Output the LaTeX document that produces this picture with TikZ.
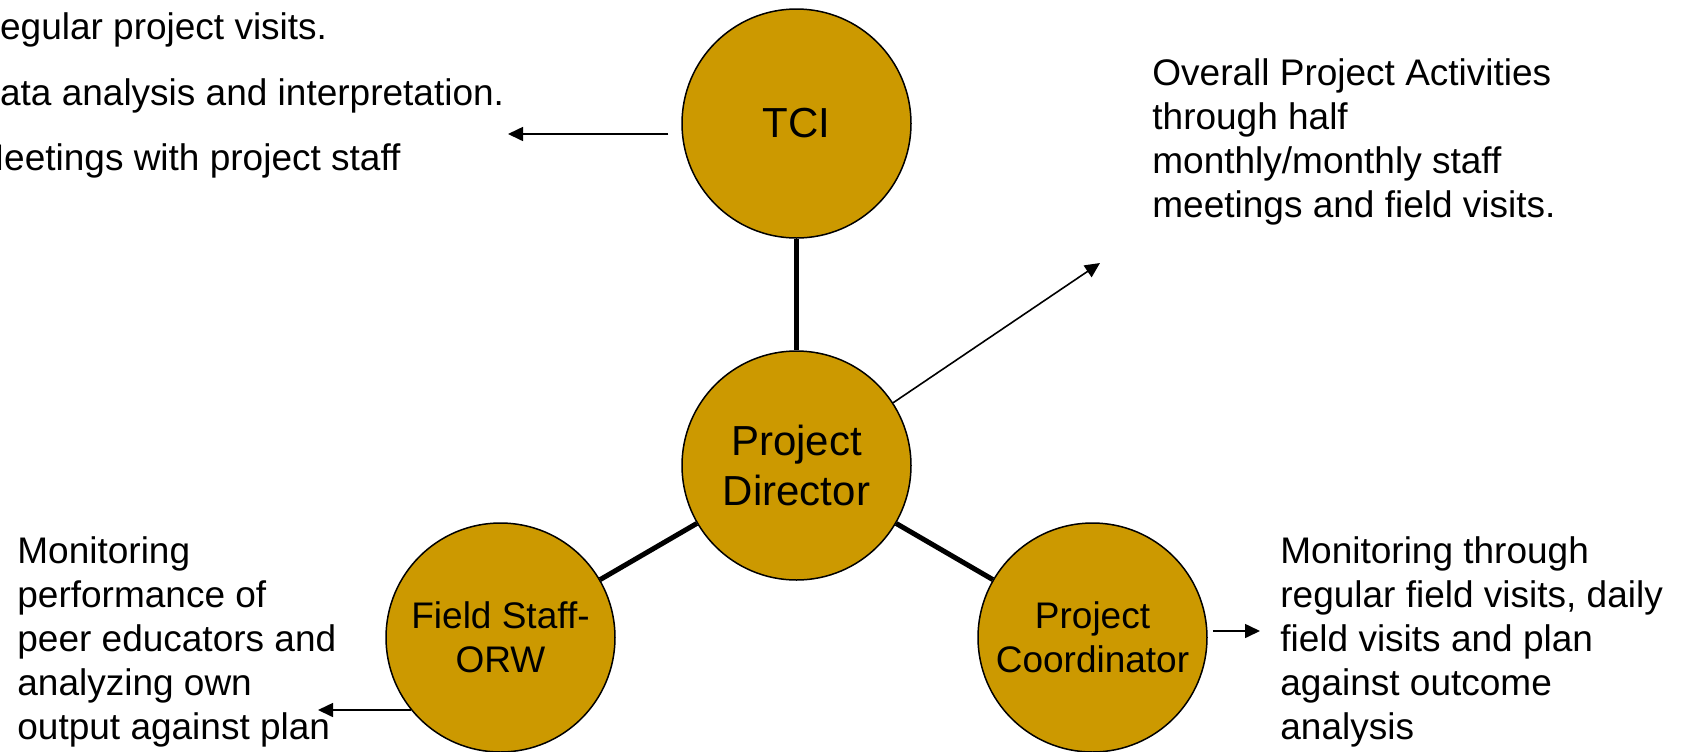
\documentclass[tikz,border=0pt]{standalone}
\usepackage{fontspec}
\setmainfont{Liberation Sans}
\usetikzlibrary{arrows.meta}
\definecolor{gold}{HTML}{CC9900}
\tikzstyle{member}=[circle,draw=black,line width=0.75pt,fill=gold,
minimum size=114.5pt,inner sep=0pt,align=center]
\tikzstyle{task}=[inner sep=0pt,anchor=north west,align=left,
font=\fontsize{18.5}{22}\selectfont]
\tikzstyle{link}=[line width=2.5pt]
\tikzstyle{report}=[->,line width=0.8pt]

\begin{document}
\begin{tikzpicture}[x=0.5pt,y=-0.5pt,>={Triangle[length=7.5pt,width=7pt]}]
    \useasboundingbox (0,0) rectangle (1683,751);

    % the four circles
    \node[member,font=\fontsize{21}{25}\selectfont] (tci) at (796.5,123.5) {TCI};
    \node[member,font=\fontsize{21}{25}\selectfont] (pd) at (796.5,465.5) {Project\\Director};
    \node[member,font=\fontsize{18.5}{22}\selectfont] (fs) at (500.5,637.5) {Field Staff-\\ORW};
    \node[member,font=\fontsize{18.5}{22}\selectfont] (pc) at (1092.5,637.5) {Project\\Coordinator};

    \draw[link] (tci) -- (pd);
    \draw[link] (pd) -- (fs);
    \draw[link] (pd) -- (pc);

    % what each one monitors
    \node[task] (tcitext) at (-27,12.5) {Regular project visits.\\[10.75pt]
      Data analysis and interpretation.\\[10.75pt]
      Meetings with project staff};
    \node[task] (pdtext) at (1152,58.5) {Overall Project Activities\\
      through half\\ monthly/monthly staff\\ meetings and field visits.};
    \node[task] (fstext) at (17,536.5) {Monitoring\\ performance of\\
      peer educators and\\ analyzing own\\ output against plan};
    \node[task] (pctext) at (1280,536.5) {Monitoring through\\
      regular field visits, daily\\ field visits and plan\\
      against outcome\\ analysis};

    \coordinate (tcitip) at (508,134);
    \coordinate (pdtip) at (1100,263);
    \coordinate (fstip) at (318,710);
    \coordinate (pctip) at (1260,631);

    \draw[report,shorten <=6.5pt] (tci.west |- tcitip) -- (tcitip);
    \draw[report] (pd.33) -- (pdtip);
    \draw[report] (fs.219.3) -- (fstip);
    \draw[report,shorten <=2.5pt] (pc.east |- pctip) -- (pctip);
\end{tikzpicture}
\end{document}
